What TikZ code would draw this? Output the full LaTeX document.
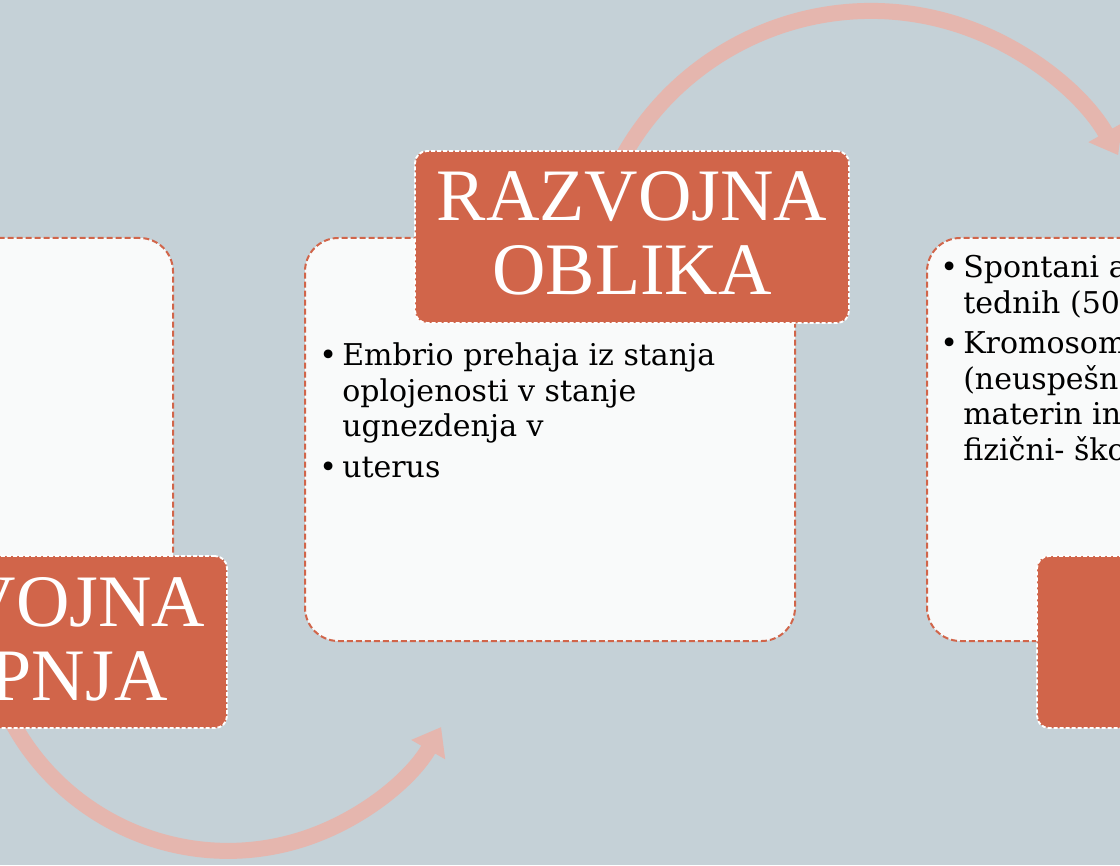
\documentclass[tikz,border=0pt]{standalone}
\usepackage{fontspec}
\setmainfont{DejaVu Serif}
\newfontfamily\titlefont{Liberation Serif}
\usetikzlibrary{positioning,arrows.meta}

\definecolor{slidebg}{RGB}{197,209,215}
\definecolor{rust}{RGB}{209,101,74}
\definecolor{cardfill}{RGB}{249,250,250}
\definecolor{arcpink}{RGB}{229,182,174}

\tikzset{
    card/.style={draw=rust, fill=cardfill, line width=1.5pt, dash pattern=on 4.5pt off 2.25pt,
                 rounded corners=25pt, minimum width=367.5pt, minimum height=302.25pt, inner sep=0pt},
    labelbox/.style={draw=white, fill=rust, line width=1.4pt, dash pattern=on 3pt off 1.5pt,
                     rounded corners=9pt, minimum width=325.5pt, minimum height=129pt, inner sep=0pt},
    titletxt/.style={text=white, font={\titlefont\fontsize{55.5}{55.5}\selectfont}, inner sep=0pt, anchor=base},
    bodytxt/.style={text=black, font={\fontsize{22.5}{26.6}\selectfont}, inner sep=0pt, anchor=base west},
    cyclearrow/.style={draw=arcpink, line width=12pt, -{Triangle[width=28pt,length=19.5pt]}}
}
\newcommand{\bpoint}{\par\hangindent=17.25pt\hangafter=1\noindent\makebox[17.25pt][l]{\textbullet}}

\begin{document}
\begin{tikzpicture}[x=0.75pt, y=0.75pt]
    \useasboundingbox (0,0) rectangle (1120,865);
    \clip (0,0) rectangle (1120,865);
    \fill[slidebg] (0,0) rectangle (1120,865);

    % arrows between the steps
    \coordinate (topc) at (871,570);
    \coordinate (botc) at (228,259.5);
    \draw[cyclearrow] (topc) ++(160:213pt) arc[start angle=160, end angle=29.5, radius=213pt];
    \draw[cyclearrow] (botc) ++(-160:184pt) arc[start angle=-160, end angle=-29.7, radius=184pt];

    % cards
    \node[card] (midcard) at (550,425.5) {};
    \node[card, left=97.5pt of midcard] (leftcard) {};
    \node[card, right=97.5pt of midcard] (rightcard) {};

    % labels
    \node[labelbox, xshift=61.5pt] (leftlabel) at (leftcard.south) {};
    \node[labelbox, xshift=61.5pt] (midlabel) at (midcard.north) {};
    \node[labelbox, xshift=61.5pt] (rightlabel) at (rightcard.south) {};

    \node[titletxt] (lefttitle) at ([yshift=12pt]leftlabel.center)
        {\parbox[t]{320pt}{\centering RAZVOJNA\\STOPNJA}};
    \node[titletxt] (midtitle) at ([yshift=12pt]midlabel.center)
        {\parbox[t]{320pt}{\centering RAZVOJNA\\OBLIKA}};

    % bullet texts
    \node[bodytxt] (midtext) at (319,499) {\parbox[t]{450pt}{\parskip=3.75pt
        \bpoint Embrio prehaja iz stanja\\oplojenosti v stanje\\ugnezdenja v
        \bpoint uterus}};
    \node[bodytxt] (righttext) at (940,587) {\parbox[t]{450pt}{\parskip=3.75pt
        \bpoint Spontani a\\tednih (50
        \bpoint Kromosom\\(neuspešn\\materin in\\fizični- ško}};
\end{tikzpicture}
\end{document}
